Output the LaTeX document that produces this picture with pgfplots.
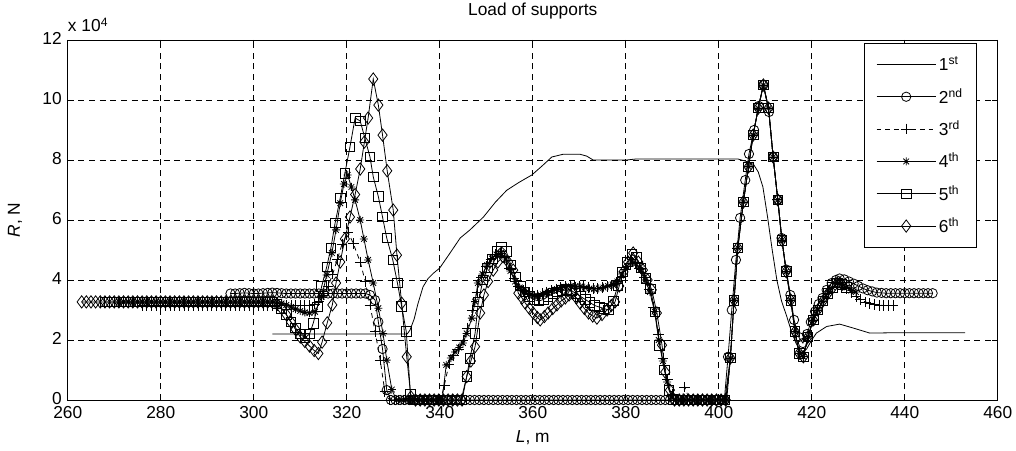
\documentclass[border=0pt]{standalone}
\usepackage{fontspec}
\setmainfont{Liberation Sans}
\usepackage{pgfplots}
\pgfplotsset{compat=1.18}
\pgfdeclareplotmark{mstar}{%
\pgfpathmoveto{\pgfqpoint{-\pgfplotmarksize}{0pt}}\pgfpathlineto{\pgfqpoint{\pgfplotmarksize}{0pt}}%
\pgfpathmoveto{\pgfqpoint{0pt}{-\pgfplotmarksize}}\pgfpathlineto{\pgfqpoint{0pt}{\pgfplotmarksize}}%
\pgfpathmoveto{\pgfqpoint{-.707\pgfplotmarksize}{-.707\pgfplotmarksize}}\pgfpathlineto{\pgfqpoint{.707\pgfplotmarksize}{.707\pgfplotmarksize}}%
\pgfpathmoveto{\pgfqpoint{-.707\pgfplotmarksize}{.707\pgfplotmarksize}}\pgfpathlineto{\pgfqpoint{.707\pgfplotmarksize}{-.707\pgfplotmarksize}}%
\pgfusepathqstroke}
\newcommand{\fs}{\fontsize{13}{15}\selectfont}
\begin{document}
\begin{tikzpicture}
\useasboundingbox (-50.8pt,-37.5pt) rectangle (711.2pt,300pt);
\begin{axis}[
  at={(0,0)}, anchor=south west,
  scale only axis, width=697.5pt, height=270pt,
  xmin=260, xmax=460, ymin=0, ymax=12,
  xtick={260,280,...,460}, ytick={0,2,...,12},
  grid=major,
  major grid style={black, dash pattern=on 4.5pt off 3.5pt, line width=0.4pt},
  tick align=inside, major tick length=4pt,
  tick style={black, line width=0.5pt},
  axis line style={line width=0.6pt},
  /pgf/number format/assume math mode=true,
  tick label style={font=\fs},
  yticklabel style={xshift=-1pt, yshift=1pt},
  xticklabel style={yshift=-1pt},
  every axis plot/.append style={black, line width=0.6pt},
  legend cell align=left,
  legend image code/.code={\draw[mark repeat=2,mark phase=2,#1] plot coordinates {(0cm,0cm)(0.78cm,0cm)(1.56cm,0cm)};},
  legend style={at={(1,1)}, anchor=north east, xshift=-15.5pt, yshift=-2.5pt,
     draw=black, line width=0.6pt, row sep=7.8pt, inner xsep=8.5pt, inner ysep=8pt, font=\fs},
]
% 1st
\addplot[no marks] coordinates {(304,2.2)(333,2.2)(333.6,2.33)(334.5,2.7)(335.3,3.2)(336.4,3.77)(337.5,4.05)(338.6,4.22)(340,4.4)(342,4.85)(344.4,5.4)(346.5,5.67)(349.4,6.1)(352,6.6)(354.4,6.99)(357,7.25)(359.8,7.5)(362,7.8)(364.1,8.1)(366.5,8.19)(370.2,8.19)(371.6,8.13)(373,8.0)(380.2,8.0)(382,8.03)(404.2,8.03)(406,7.95)(407.5,7.85)(408.5,7.6)(409.5,7.1)(410.5,6.1)(411.5,5.0)(412.5,4.0)(413.5,3.3)(414.6,2.8)(415.6,2.3)(416.6,1.9)(417.8,1.56)(418.9,1.7)(420,2.0)(421,2.23)(423.2,2.45)(426,2.53)(428.9,2.4)(432.5,2.23)(436.8,2.24)(453,2.24)};
\addlegendentry{1\textsuperscript{st}}
% 2nd
\addplot[mark=o, mark size=3.5pt] coordinates {(295,3.55)(296,3.55)(297,3.56)(298,3.57)(299,3.56)(300,3.55)(301,3.55)(302,3.56)(303,3.57)(304,3.58)(305,3.57)(306,3.56)(307,3.55)(308,3.55)(309,3.55)(310,3.55)(311,3.55)(312,3.55)(313,3.55)(314,3.55)(315,3.55)(316,3.55)(317,3.55)(318,3.55)(319,3.55)(320,3.55)(321,3.55)(322,3.55)(323,3.55)(324,3.55)(325,3.5)(326.1,3.33)(326.8,2.6)(327.7,1.7)(328.6,0.33)(329.5,0)(330.5,0)(331.5,0)(332.5,0)(333.5,0)(334.5,0)(335.5,0)(336.5,0)(337.5,0)(338.5,0)(339.5,0)(340.5,0)(341.5,0)(342.5,0)(343.5,0)(344.5,0)(345.5,0)(346.5,0)(347.5,0)(348.5,0)(349.5,0)(350.5,0)(351.5,0)(352.5,0)(353.5,0)(354.5,0)(355.5,0)(356.5,0)(357.5,0)(358.5,0)(359.5,0)(360.5,0)(361.5,0)(362.5,0)(363.5,0)(364.5,0)(365.5,0)(366.5,0)(367.5,0)(368.5,0)(369.5,0)(370.5,0)(371.5,0)(372.5,0)(373.5,0)(374.5,0)(375.5,0)(376.5,0)(377.5,0)(378.5,0)(379.5,0)(380.5,0)(381.5,0)(382.5,0)(383.5,0)(384.5,0)(385.5,0)(386.5,0)(387.5,0)(388.5,0)(389.5,0)(390.5,0)(391.5,0)(392.5,0)(393.5,0)(394.5,0)(395.5,0)(396.5,0)(397.5,0)(398.5,0)(399.5,0)(400.5,0)(401.2,0)(402,1.44)(402.8,3.0)(403.7,4.67)(404.6,6.07)(405.7,7.33)(406.5,8.2)(407.6,9.0)(408.6,9.8)(409.6,10.5)(410.8,9.6)(411.7,8.1)(412.7,6.67)(413.5,5.4)(414.5,4.35)(415.4,3.5)(416.2,2.67)(417.2,2.1)(418.1,1.9)(419,2.2)(419.8,2.6)(420.7,2.95)(421.5,3.2)(422.3,3.4)(423.2,3.67)(424.3,3.9)(425.2,4.0)(426,4.05)(427,4.02)(428,3.95)(429,3.88)(430,3.8)(431,3.72)(432,3.66)(433,3.62)(434,3.58)(435,3.57)(436,3.56)(437,3.56)(438,3.56)(439,3.56)(440,3.56)(441,3.56)(442,3.56)(443,3.56)(444,3.56)(445,3.56)(446,3.56)};
\addlegendentry{2\textsuperscript{nd}}
% 3rd
\addplot[dash pattern=on 3.5pt off 3pt, mark=+, mark size=4pt, mark options={solid}] coordinates {(276,3.15)(277,3.15)(278,3.15)(279,3.15)(280,3.15)(281,3.15)(282,3.15)(283,3.15)(284,3.15)(285,3.15)(286,3.15)(287,3.15)(288,3.15)(289,3.15)(290,3.15)(291,3.15)(292,3.15)(293,3.15)(294,3.15)(295,3.15)(296,3.15)(297,3.15)(298,3.15)(299,3.15)(300,3.15)(301,3.15)(302,3.15)(303,3.15)(304,3.15)(305,3.15)(306,3.15)(307,3.15)(308,3.15)(309,3.15)(310,3.15)(311,3.15)(312,3.15)(313,3.2)(314,3.3)(315,3.5)(316,3.8)(317,4.2)(318,4.7)(319,5.2)(320.3,5.6)(321.4,5.22)(322.9,4.6)(324,3.94)(325,3.17)(326.1,2.28)(327.2,1.33)(328.2,0.28)(329.2,0)(330.2,0)(331.2,0)(332.2,0)(333.2,0)(334.2,0)(335.2,0)(336.2,0)(337.2,0)(338.2,0)(339.2,0)(340.2,0)(341,0.5)(342,1.2)(343,1.5)(344,1.7)(345,2.0)(346,2.4)(347,3.0)(348,3.6)(349,4.1)(350,4.45)(351,4.7)(352,4.85)(353,4.9)(354,4.75)(355,4.4)(356,4.05)(357,3.8)(358,3.65)(359,3.55)(360,3.5)(361,3.5)(362,3.55)(363,3.6)(364,3.65)(365,3.7)(366,3.75)(367,3.78)(368,3.8)(369,3.8)(370,3.8)(371,3.78)(372,3.75)(373,3.72)(374,3.72)(375,3.75)(376,3.78)(377,3.82)(378,3.9)(379,4.1)(380,4.35)(381,4.55)(382,4.55)(383,4.4)(384,4.1)(385,3.7)(386,3.1)(387,2.2)(388,1.4)(389,0.7)(390,0.2)(391,0)(392,0)(392.7,0.43)(393.7,0)(394.7,0)(395.7,0)(396.7,0)(397.7,0)(398.7,0)(399.7,0)(400.7,0)(401.7,0)(402.5,1.4)(403.3,3.33)(404.1,5.07)(405.3,6.6)(406.4,7.77)(407.4,8.83)(408.5,9.73)(409.6,10.5)(410.7,9.73)(411.7,8.1)(412.7,6.67)(413.6,5.33)(414.5,4.28)(415.5,3.33)(416.4,2.28)(417.3,1.56)(418.2,1.44)(419.2,2.11)(420.3,2.67)(421.3,3.0)(422.4,3.3)(423.5,3.56)(424.5,3.75)(425.5,3.9)(426.5,3.85)(427.5,3.72)(428.5,3.58)(429.5,3.45)(430.5,3.35)(431.5,3.27)(432.5,3.22)(433.5,3.18)(434.5,3.16)(435.5,3.15)(436.5,3.15)(437.5,3.15)};
\addlegendentry{3\textsuperscript{rd}}
% 4th
\addplot[mark=mstar, mark size=3pt] coordinates {(271,3.27)(272,3.27)(273,3.27)(274,3.27)(275,3.27)(276,3.27)(277,3.27)(278,3.27)(279,3.27)(280,3.27)(281,3.27)(282,3.27)(283,3.27)(284,3.27)(285,3.27)(286,3.27)(287,3.27)(288,3.27)(289,3.27)(290,3.27)(291,3.27)(292,3.27)(293,3.27)(294,3.27)(295,3.27)(296,3.27)(297,3.27)(298,3.27)(299,3.27)(300,3.27)(301,3.27)(302,3.27)(303,3.27)(304,3.27)(305,3.27)(306,3.22)(307,3.17)(308,3.1)(309,3.03)(310,2.97)(311,2.92)(312,2.9)(313.2,2.94)(314.6,3.44)(315.7,4.17)(316.8,4.9)(317.7,5.67)(318.6,6.56)(319.4,7.2)(320.2,7.5)(321,7.1)(321.8,6.67)(322.9,6.0)(323.7,5.37)(324.6,4.67)(325.7,3.9)(326.8,3.06)(327.8,2.22)(328.6,1.33)(329.7,0.35)(330.7,0)(331.7,0)(332.7,0)(333.7,0)(334.7,0)(335.7,0)(336.7,0)(337.7,0)(338.7,0)(339.7,0)(340.5,0)(341.4,1.17)(342.4,1.4)(343.3,1.6)(344.2,1.75)(345,1.9)(345.8,2.22)(346.9,2.73)(347.6,3.28)(348.2,3.9)(349.2,4.2)(350.2,4.5)(351.2,4.72)(352.2,4.85)(353.2,4.9)(354.2,4.7)(355.2,4.3)(356.2,3.95)(357.2,3.75)(358.2,3.62)(359.2,3.52)(360.2,3.47)(361.2,3.47)(362.2,3.52)(363.2,3.58)(364.2,3.64)(365.2,3.7)(366.2,3.74)(367.2,3.77)(368.2,3.79)(369.2,3.8)(370.2,3.78)(371.2,3.75)(372.2,3.72)(373.2,3.7)(374.2,3.72)(375.2,3.75)(376.2,3.8)(377.2,3.85)(378.2,3.95)(379.2,4.2)(380.2,4.45)(381.2,4.6)(382.2,4.55)(383.2,4.35)(384.2,4.0)(385.2,3.6)(386.2,2.95)(387.1,2.0)(388,1.3)(388.9,0.6)(389.8,0.1)(390.7,0)(391.7,0)(392.7,0)(393.7,0)(394.7,0)(395.7,0)(396.7,0)(397.7,0)(398.7,0)(399.7,0)(400.7,0)(401.7,0)(402.5,1.4)(403.3,3.33)(404.1,5.07)(405.3,6.6)(406.4,7.77)(407.4,8.83)(408.5,9.73)(409.6,10.5)(410.7,9.73)(411.7,8.1)(412.7,6.67)(413.6,5.33)(414.5,4.28)(415.5,3.33)(416.4,2.28)(417.3,1.56)(418.2,1.44)(419.2,2.11)(420.3,2.67)(421.3,3.0)(422.4,3.3)(423.5,3.56)(424.5,3.75)(425.5,3.9)(426.5,3.85)(427.5,3.75)(428.5,3.65)(429.5,3.6)};
\addlegendentry{4\textsuperscript{th}}
% 5th
\addplot[mark=square, mark size=3.6pt] coordinates {(268,3.27)(269,3.27)(270,3.27)(271,3.27)(272,3.27)(273,3.27)(274,3.27)(275,3.27)(276,3.27)(277,3.27)(278,3.27)(279,3.27)(280,3.27)(281,3.27)(282,3.27)(283,3.27)(284,3.27)(285,3.27)(286,3.27)(287,3.27)(288,3.27)(289,3.27)(290,3.27)(291,3.27)(292,3.27)(293,3.27)(294,3.27)(295,3.27)(296,3.27)(297,3.27)(298,3.27)(299,3.27)(300,3.27)(301,3.27)(302,3.27)(303,3.27)(304,3.27)(305,3.2)(306,3.05)(307,2.85)(308,2.6)(309,2.4)(310,2.2)(311,2.07)(312,2.2)(312.8,2.56)(313.7,3.1)(314.6,3.78)(315.7,4.44)(316.6,5.07)(317.5,5.9)(318.6,6.73)(319.6,7.56)(320.7,8.44)(321.8,9.4)(322.9,9.3)(323.9,8.73)(325,8.1)(325.7,7.44)(326.8,6.78)(327.7,6.1)(328.6,5.4)(329.9,4.67)(330.9,3.9)(331.8,3.13)(332.8,2.28)(333.7,0.2)(334.6,0)(335.6,0)(336.6,0)(337.6,0)(338.6,0)(339.6,0)(340.6,0)(341.6,0)(342.6,0)(343.6,0)(344.6,0)(345.8,0.78)(346.5,1.39)(347.6,2.22)(348.3,3.27)(349.3,4.0)(350.3,4.4)(351.3,4.7)(352.3,4.95)(353.3,5.1)(354.3,4.95)(355.3,4.5)(356.3,4.1)(357.3,3.8)(358.3,3.6)(359.3,3.45)(360.3,3.35)(361.3,3.3)(362.3,3.35)(363.3,3.45)(364.3,3.55)(365.3,3.6)(366.3,3.65)(367.3,3.68)(368.3,3.65)(369.3,3.55)(370.3,3.45)(371.3,3.35)(372.3,3.25)(373.3,3.15)(374.3,3.1)(375.3,3.05)(376.3,3.0)(377.3,3.3)(378.3,3.8)(379.3,4.27)(380.3,4.6)(381.3,4.85)(382.3,4.75)(383.3,4.4)(384.3,4.05)(385.3,3.7)(386.3,2.94)(387.3,1.83)(388.3,1.0)(389.3,0.33)(390.3,0)(391.3,0)(392.3,0)(393.3,0)(394.3,0)(395.3,0)(396.3,0)(397.3,0)(398.3,0)(399.3,0)(400.3,0)(401.3,0)(402.5,1.4)(403.3,3.33)(404.1,5.07)(405.3,6.6)(406.4,7.77)(407.4,8.83)(408.5,9.73)(409.6,10.5)(410.7,9.73)(411.7,8.1)(412.7,6.67)(413.6,5.33)(414.5,4.28)(415.5,3.33)(416.4,2.28)(417.3,1.56)(418.2,1.44)(419.2,2.11)(420.3,2.67)(421.3,3.0)(422.4,3.3)(423.5,3.56)(424.5,3.75)(425.5,3.9)(426.5,3.85)(427.5,3.75)};
\addlegendentry{5\textsuperscript{th}}
% 6th
\addplot[mark=diamond, mark size=4.6pt] coordinates {(263,3.27)(264,3.27)(265,3.27)(266,3.27)(267,3.27)(268,3.27)(269,3.27)(270,3.27)(271,3.27)(272,3.27)(273,3.27)(274,3.27)(275,3.27)(276,3.27)(277,3.27)(278,3.27)(279,3.27)(280,3.27)(281,3.27)(282,3.27)(283,3.27)(284,3.27)(285,3.27)(286,3.27)(287,3.27)(288,3.27)(289,3.27)(290,3.27)(291,3.27)(292,3.27)(293,3.27)(294,3.27)(295,3.27)(296,3.27)(297,3.27)(298,3.27)(299,3.27)(300,3.27)(301,3.27)(302,3.27)(303,3.27)(304,3.27)(305,3.2)(306,3.05)(307,2.85)(308,2.6)(309,2.35)(310,2.1)(311,1.95)(312,1.8)(313,1.65)(313.9,1.55)(314.7,1.93)(315.8,2.57)(316.9,3.17)(317.7,3.9)(318.6,4.6)(319.6,5.37)(320.7,6.1)(321.8,6.85)(322.9,7.7)(323.8,8.6)(324.6,9.4)(325.7,10.7)(326.8,9.83)(327.7,8.83)(328.7,7.64)(330,6.33)(330.8,4.83)(331.8,3.23)(332.9,1.44)(333.8,0.1)(334.8,0)(335.8,0)(336.8,0)(337.8,0)(338.8,0)(339.8,0)(340.8,0)(341.8,0)(342.8,0)(343.8,0)(344.8,0)(345.8,0.78)(346.7,1.3)(347.6,1.78)(348.7,2.9)(349.5,3.5)(350.4,3.95)(351.5,4.33)(352.5,4.6)(353.6,4.78)(354.7,4.6)(355.8,4.33)(356.9,3.56)(357.7,3.4)(358.4,3.23)(359.3,3.05)(360.1,2.9)(361,2.75)(361.6,2.67)(362.5,2.78)(363.3,2.9)(364.3,3.05)(365.2,3.17)(366.1,3.3)(367,3.4)(367.8,3.5)(368.5,3.56)(369.4,3.4)(370.2,3.23)(371.1,3.05)(372,2.9)(372.9,2.8)(373.8,2.73)(374.9,2.85)(376,3.0)(376.9,3.15)(377.7,3.27)(378.6,3.8)(379.5,4.27)(380.5,4.6)(381.6,4.9)(382.7,4.6)(383.7,4.33)(384.7,4.0)(385.6,3.67)(386.7,2.9)(387.8,1.83)(388.5,0.93)(389.5,0.33)(390.5,0)(391.5,0)(392.5,0)(393.5,0)(394.5,0)(395.5,0)(396.5,0)(397.5,0)(398.5,0)(399.5,0)(400.5,0)(401.5,0)(402.5,1.4)(403.3,3.33)(404.1,5.07)(405.3,6.6)(406.4,7.77)(407.4,8.83)(408.5,9.73)(409.6,10.5)(410.7,9.73)(411.7,8.1)(412.7,6.67)(413.6,5.33)(414.5,4.28)(415.5,3.33)(416.4,2.28)(417.3,1.56)(418.2,1.44)(419.2,2.11)(420.3,2.67)(421.3,3.0)(422.4,3.3)(423.5,3.56)(424.5,3.75)(425.5,3.9)(426.5,3.85)};
\addlegendentry{6\textsuperscript{th}}
\end{axis}
\node[anchor=base, font=\fs] at (348.75pt,288.5pt) {Load of supports};
\node[anchor=base west, inner sep=0pt, font=\fs] at (0pt,276pt) {x 10\textsuperscript{4}};
\node[anchor=base, font=\fs] at (348.75pt,-32pt) {\textit{L}, m};
\node[rotate=90, anchor=center, font=\fs] at (-39.5pt,135pt) {\textit{R}, N};
\end{tikzpicture}
\end{document}
